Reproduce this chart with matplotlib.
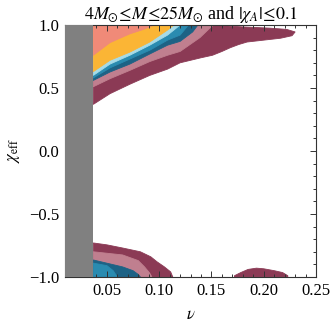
import matplotlib
matplotlib.use('Agg')
import matplotlib.pyplot as plt
from matplotlib.ticker import MultipleLocator

plt.rcParams['font.family'] = ['Liberation Serif', 'DejaVu Serif']
plt.rcParams['mathtext.fontset'] = 'stix'

# excluded region (mass ratio beyond 1/25)
nu_excluded = [0.01, 0.037]

# regions of the (nu, chi_eff) plane, drawn back to front
maroon_top_nu = [0.037, 0.053, 0.072, 0.091, 0.108, 0.12, 0.14, 0.151, 0.16, 0.168, 0.176, 0.184,
                 0.20, 0.216, 0.227, 0.23, 0.222, 0.206, 0.18, 0.15, 0.037]
maroon_top_chi = [0.37, 0.455, 0.53, 0.60, 0.65, 0.70, 0.74, 0.76, 0.79, 0.82, 0.845, 0.865,
                  0.88, 0.895, 0.915, 0.945, 0.965, 0.975, 0.985, 1.0, 1.0]
pink_top_nu = [0.037, 0.053, 0.072, 0.091, 0.108, 0.12, 0.139, 0.149, 0.152, 0.037]
pink_top_chi = [0.51, 0.574, 0.64, 0.71, 0.76, 0.79, 0.90, 0.98, 1.0, 1.0]
dblue_top_nu = [0.037, 0.053, 0.072, 0.091, 0.108, 0.12, 0.132, 0.137, 0.037]
dblue_top_chi = [0.56, 0.627, 0.69, 0.77, 0.84, 0.87, 0.945, 1.0, 1.0]
mblue_top_nu = [0.037, 0.053, 0.072, 0.091, 0.108, 0.12, 0.128, 0.037]
mblue_top_chi = [0.58, 0.66, 0.73, 0.80, 0.88, 0.92, 1.0, 1.0]
cyan_top_nu = [0.037, 0.053, 0.072, 0.091, 0.108, 0.12, 0.037]
cyan_top_chi = [0.60, 0.69, 0.76, 0.84, 0.92, 1.0, 1.0]
yellow_top_nu = [0.037, 0.053, 0.072, 0.091, 0.108, 0.114, 0.037]
yellow_top_chi = [0.63, 0.72, 0.785, 0.865, 0.96, 1.0, 1.0]
salmon_top_nu = [0.037, 0.053, 0.072, 0.085, 0.095, 0.037]
salmon_top_chi = [0.76, 0.86, 0.93, 0.965, 1.0, 1.0]

maroon_bot_nu = [0.037, 0.05, 0.065, 0.082, 0.092, 0.098, 0.105, 0.111, 0.113, 0.037]
maroon_bot_chi = [-0.73, -0.745, -0.77, -0.80, -0.84, -0.88, -0.92, -0.96, -1.0, -1.0]
pink_bot_nu = [0.037, 0.065, 0.08, 0.086, 0.091, 0.093, 0.037]
pink_bot_chi = [-0.80, -0.825, -0.87, -0.92, -0.97, -1.0, -1.0]
dblue_bot_nu = [0.037, 0.065, 0.075, 0.08, 0.082, 0.037]
dblue_bot_chi = [-0.865, -0.92, -0.95, -0.98, -1.0, -1.0]
mblue_bot_nu = [0.037, 0.05, 0.056, 0.06, 0.037]
mblue_bot_chi = [-0.89, -0.91, -0.95, -1.0, -1.0]
maroon_blob_nu = [0.172, 0.178, 0.185, 0.193, 0.20, 0.21, 0.218, 0.223, 0.223, 0.172]
maroon_blob_chi = [-0.99, -0.965, -0.94, -0.93, -0.935, -0.95, -0.965, -0.99, -1.0, -1.0]

maroon = '#8b3a55'
pink = '#c07f8f'
dblue = '#1d6285'
mblue = '#2a8bb0'
cyan = '#a6dbe8'
yellow = '#fbb535'
salmon = '#f08a78'

fig = plt.figure(figsize=(3.32, 3.27), dpi=100)
ax = fig.add_axes([0.196, 0.153, 0.756, 0.7705])

regions = [
    (maroon_top_nu, maroon_top_chi, maroon),
    (pink_top_nu, pink_top_chi, pink),
    (dblue_top_nu, dblue_top_chi, dblue),
    (mblue_top_nu, mblue_top_chi, mblue),
    (cyan_top_nu, cyan_top_chi, cyan),
    (yellow_top_nu, yellow_top_chi, yellow),
    (salmon_top_nu, salmon_top_chi, salmon),
    (maroon_bot_nu, maroon_bot_chi, maroon),
    (pink_bot_nu, pink_bot_chi, pink),
    (dblue_bot_nu, dblue_bot_chi, dblue),
    (mblue_bot_nu, mblue_bot_chi, mblue),
    (maroon_blob_nu, maroon_blob_chi, maroon),
]
for nu, chi, c in regions:
    ax.fill(nu, chi, color=c, lw=0.6, ec=c)

ax.axvspan(nu_excluded[0], nu_excluded[1], color='#808080', lw=0, zorder=3)

ax.set_xlim(0.01, 0.25)
ax.set_ylim(-1.0, 1.0)
ax.xaxis.set_major_locator(MultipleLocator(0.05))
ax.xaxis.set_minor_locator(MultipleLocator(0.01))
ax.yaxis.set_major_locator(MultipleLocator(0.5))
ax.yaxis.set_minor_locator(MultipleLocator(0.1))
ax.set_xticks([0.05, 0.10, 0.15, 0.20, 0.25])
ax.set_xticklabels(['0.05', '0.10', '0.15', '0.20', '0.25'])
ax.set_yticks([-1.0, -0.5, 0.0, 0.5, 1.0])
ax.set_yticklabels(['\u22121.0', '\u22120.5', '0.0', '0.5', '1.0'])
ax.tick_params(which='both', direction='in', top=True, right=True, labelsize=12,
               color='#333333', width=0.7)
ax.tick_params(which='major', length=4.5, pad=4)
ax.tick_params(which='minor', length=2.5)
for s in ax.spines.values():
    s.set_color('#333333')
    s.set_linewidth(0.8)

ax.set_title(r'$4M_{\odot}\!\leq\! M\!\leq\! 25M_{\odot}$ and $|\chi_A|\!\leq\! 0.1$',
             fontsize=13, pad=4)
ax.set_xlabel(r'$\nu$', fontsize=12, labelpad=6)
ax.set_ylabel(r'$\chi_{\rm eff}$', fontsize=12, labelpad=5)

fig.savefig('out.png', dpi=100)
